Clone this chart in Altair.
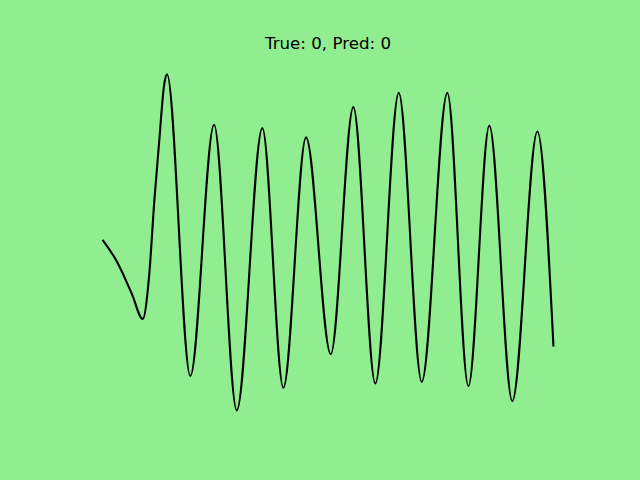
import altair as alt
import pandas as pd

# Signal (time index, amplitude)
t_vals = [0.0, 3.2, 6.48, 8.92, 10.31, 11.49, 12.53,
          13.70, 14.30, 19.47, 24.73, 29.76,
          35.44, 40.10, 45.13, 50.61, 55.62, 60.50, 65.69, 70.79, 76.47, 81.13, 85.78,
          90.88, 96.43, 100.0]
y_vals = [0.03, -0.23, -0.61, -0.91, -0.41, 0.50, 1.18,
          1.89, 2.00, -1.59, 1.40, -2.00,
          1.36, -1.73, 1.25, -1.33, 1.61, -1.68, 1.78, -1.66, 1.78, -1.71, 1.39,
          -1.89, 1.32, -1.24]
title_text = ["True: 0, Pred: 0"]

df = pd.DataFrame({"t": t_vals, "y": y_vals})

xmin, xmax = min(t_vals), max(t_vals)
ymin, ymax = min(y_vals), max(y_vals)
xp = 0.05 * (xmax - xmin)
yp = 0.05 * (ymax - ymin)

line = alt.Chart(df).mark_line(color="black", strokeWidth=2.1, interpolate="monotone").encode(
    x=alt.X("t:Q", axis=None, scale=alt.Scale(domain=[xmin - xp, xmax + xp], nice=False, zero=False)),
    y=alt.Y("y:Q", axis=None, scale=alt.Scale(domain=[ymin - yp, ymax + yp], nice=False, zero=False)),
    order="t:Q",
)

title = alt.Chart(pd.DataFrame({"label": title_text})).mark_text(
    font="DejaVu Sans", fontSize=16.67, color="black", align="center", baseline="alphabetic"
).encode(
    x=alt.value(248),
    y=alt.value(-8.3),
    text="label:N",
)

chart = alt.layer(line, title).properties(
    width=496,
    height=369.6,
    background="#90EE90",
    padding={"left": 80, "top": 57.6, "right": 64, "bottom": 52.8},
    autosize="none",
).configure_view(stroke=None)

chart.save("out.html", embed_options={"renderer": "svg", "actions": False})
